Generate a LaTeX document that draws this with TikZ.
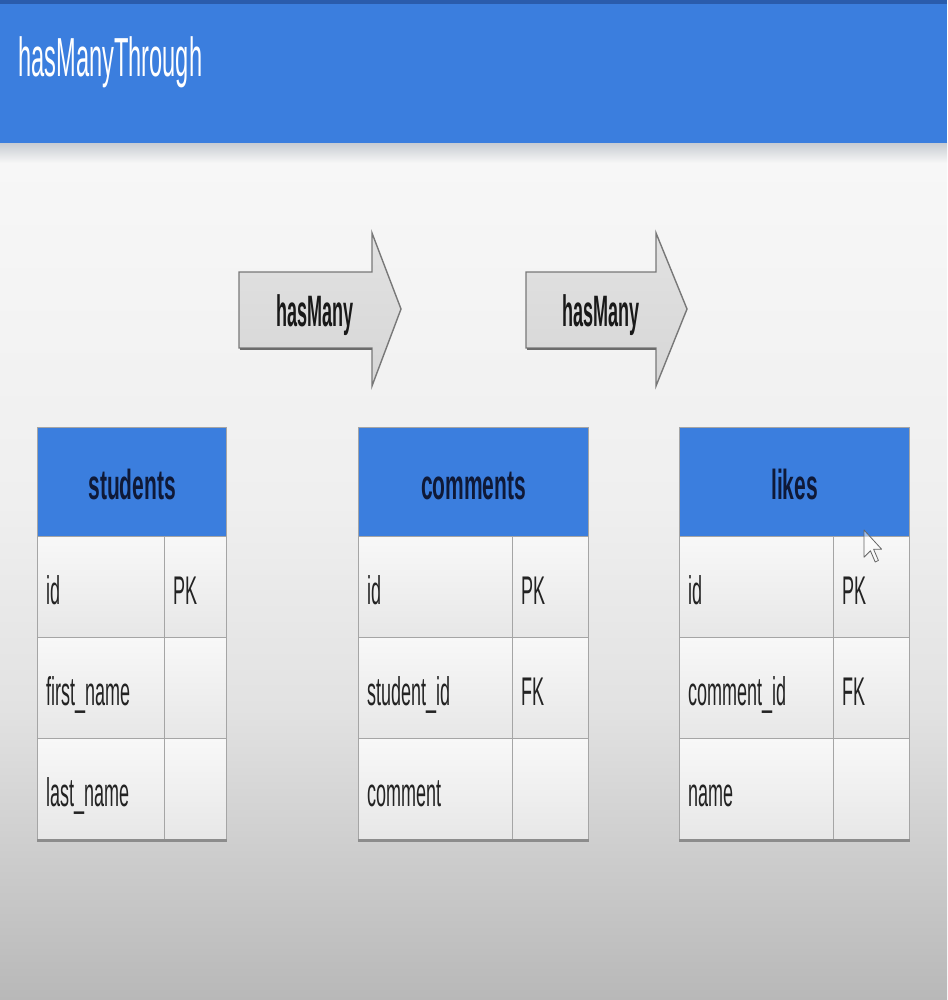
\documentclass[tikz,border=0pt]{standalone}
\usepackage{fontspec}
\setmainfont{Liberation Sans}
\newfontfamily\titlefont[FakeStretch=0.43]{Liberation Sans}
\newfontfamily\cellfont[FakeStretch=0.45]{Liberation Sans}
\newfontfamily\headfont[FakeStretch=0.5]{Liberation Sans}
\newfontfamily\arrowfont[FakeStretch=0.41]{Liberation Sans}
\definecolor{tblue}{RGB}{59,126,222}
\definecolor{bartop}{RGB}{42,92,172}
\definecolor{navy}{RGB}{15,25,55}
\definecolor{tbline}{RGB}{165,165,165}
\definecolor{tbshadow}{RGB}{140,140,140}
\definecolor{cellt}{RGB}{248,248,248}
\definecolor{cellb}{RGB}{231,231,231}
\definecolor{celltext}{RGB}{35,35,35}
\definecolor{arrfill}{RGB}{226,226,226}
\definecolor{arrfillb}{RGB}{214,214,214}
\definecolor{arrline}{RGB}{120,120,120}
\definecolor{bg1}{RGB}{247,247,247}
\definecolor{bg2}{RGB}{239,239,239}
\definecolor{bg3}{RGB}{226,226,226}
\definecolor{bg4}{RGB}{184,184,184}
\definecolor{barshadow}{RGB}{200,204,210}
\pgfdeclareverticalshading{bgshade}{100bp}{color(0bp)=(bg4); color(25bp)=(bg4); color(42bp)=(bg3); color(54bp)=(bg2); color(74bp)=(bg1); color(100bp)=(bg1)}
\begin{document}
\begin{tikzpicture}[x=1pt,y=-1pt,
  hdr/.style={draw=tbline, line width=1.3pt, fill=tblue, minimum height=109, inner sep=0, anchor=north west,
    text=navy, font=\headfont\bfseries\fontsize{42}{46}\selectfont, text height=38, text depth=4, align=center},
  cell/.style={draw=tbline, line width=1.3pt, top color=cellt, bottom color=cellb, minimum height=101, inner xsep=9, inner ysep=0,
    anchor=north west, text=celltext, font=\cellfont\fontsize{40}{44}\selectfont, text height=38, text depth=4, align=left},
  arrowbox/.style={draw=arrline, line width=1.4pt, top color=arrfill, bottom color=arrfillb, line join=miter},
  arrowtext/.style={inner sep=0, text=black!90, font=\arrowfont\bfseries\fontsize{44}{48}\selectfont, text height=38, text depth=6},
  tshadow/.style={draw=tbshadow, line width=2.5pt}
]
\useasboundingbox (0,0) rectangle (947,1000);
% background
\shade[shading=bgshade] (0,143) rectangle (947,1000);
\shade[top color=barshadow, bottom color=bg1] (0,143) rectangle (947,163);
% title bar
\fill[tblue] (0,0) rectangle (947,143);
\fill[bartop] (0,0) rectangle (947,4);
\node[anchor=base west, inner sep=0, text=white, font=\titlefont\fontsize{55}{60}\selectfont] (title) at (18,77) {hasManyThrough};

% arrows
\path[arrowbox] (239,272) -- (372,272) -- (372,233) -- (401,309) -- (372,386) -- (372,348) -- (239,348) -- cycle;
\draw[draw=arrline!90!black, line width=2.2pt] (240,349) -- (372,349);
\node[arrowtext] (hm1) at (315,310) {hasMany};
\path[arrowbox] (526,272) -- (656,272) -- (656,233) -- (687,309) -- (656,386) -- (656,348) -- (526,348) -- cycle;
\draw[draw=arrline!90!black, line width=2.2pt] (527,349) -- (656,349);
\node[arrowtext] (hm2) at (601,310) {hasMany};

% students
\node[hdr, minimum width=189] (stu) at (37,427) {students};
\node[cell, text width=109] (stu-1a) at (37,536) {id};
\node[cell, text width=44] (stu-1b) at (164,536) {PK};
\node[cell, text width=109] (stu-2a) at (37,637) {first\_name};
\node[cell, text width=44] (stu-2b) at (164,637) {};
\node[cell, text width=109] (stu-3a) at (37,738) {last\_name};
\node[cell, text width=44] (stu-3b) at (164,738) {};
\draw[tshadow] (stu-3a.south west) -- (stu-3b.south east);

% comments
\node[hdr, minimum width=230] (com) at (358,427) {comments};
\node[cell, text width=136] (com-1a) at (358,536) {id};
\node[cell, text width=58] (com-1b) at (512,536) {PK};
\node[cell, text width=136] (com-2a) at (358,637) {student\_id};
\node[cell, text width=58] (com-2b) at (512,637) {FK};
\node[cell, text width=136] (com-3a) at (358,738) {comment};
\node[cell, text width=58] (com-3b) at (512,738) {};
\draw[tshadow] (com-3a.south west) -- (com-3b.south east);

% likes
\node[hdr, minimum width=230] (lik) at (679,427) {likes};
\node[cell, text width=136] (lik-1a) at (679,536) {id};
\node[cell, text width=58] (lik-1b) at (833,536) {PK};
\node[cell, text width=136] (lik-2a) at (679,637) {comment\_id};
\node[cell, text width=58] (lik-2b) at (833,637) {FK};
\node[cell, text width=136] (lik-3a) at (679,738) {name};
\node[cell, text width=58] (lik-3b) at (833,738) {};
\draw[tshadow] (lik-3a.south west) -- (lik-3b.south east);

% mouse cursor
\draw[draw=black!60, line width=0.8pt, fill=white, fill opacity=0.5, line join=round, shift={(864,530)}, scale=1.6]
  (0,0) -- (0,17) -- (4,13) -- (7,20) -- (9,19) -- (6,12) -- (11,12) -- cycle;
\end{tikzpicture}
\end{document}
